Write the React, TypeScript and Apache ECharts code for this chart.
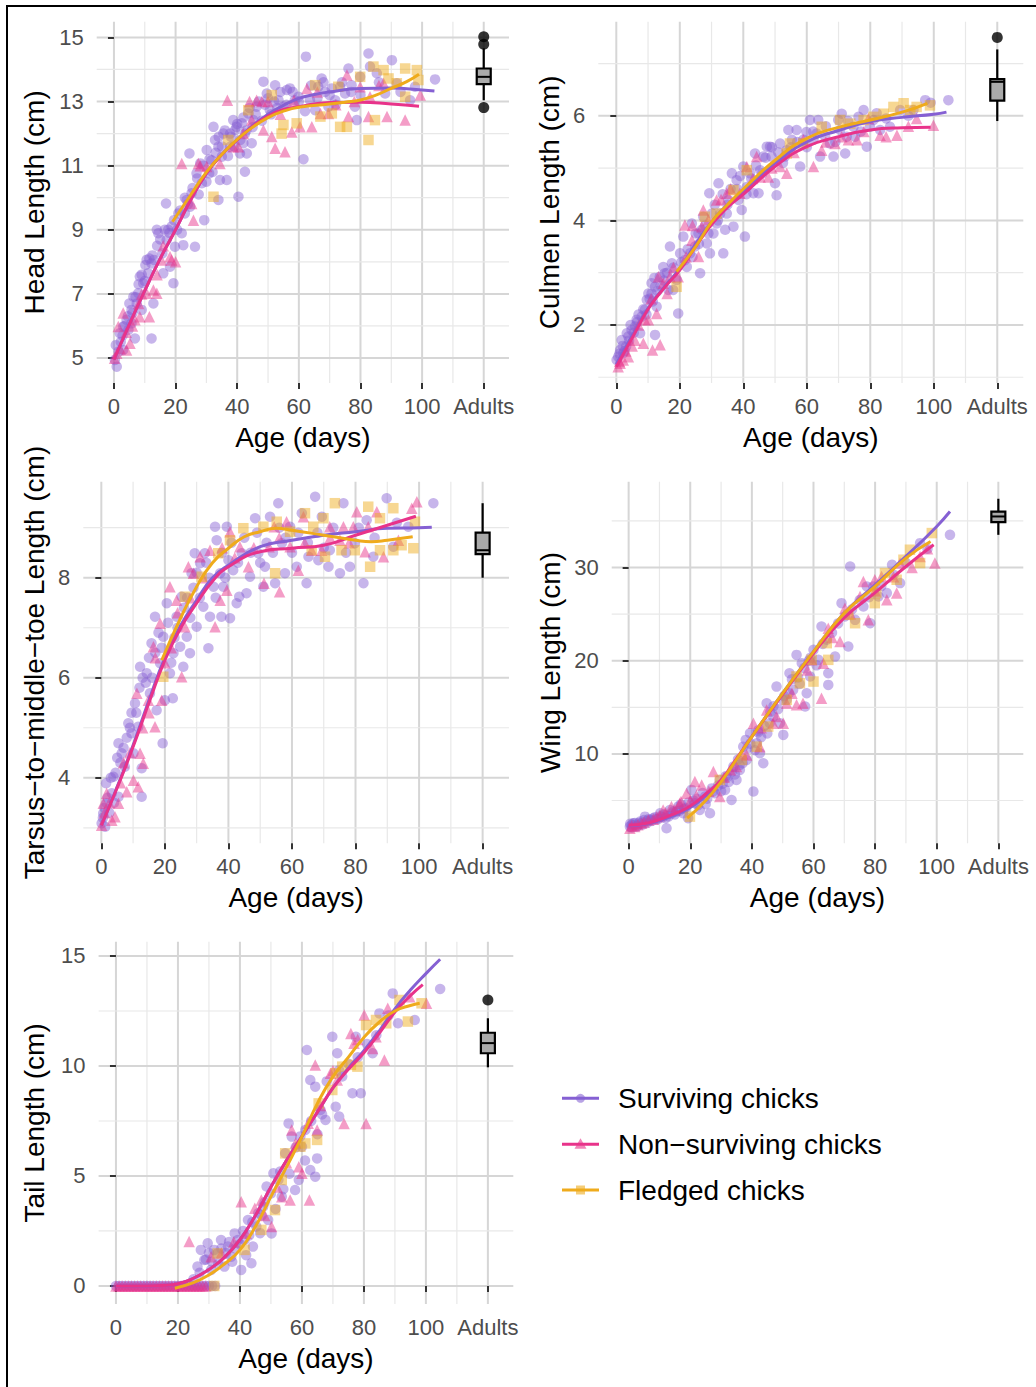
import React, { useEffect, useRef } from "react";
import * as echarts from "echarts";

// ---------- shared axis data ----------
const xTickValues = [0, 20, 40, 60, 80, 100, 120];
const xTickLabels = ["0", "20", "40", "60", "80", "100", "Adults"];
const xMinorValues = [10, 30, 50, 70, 90, 110];
const ADULT_X = 120;

const groupNames = ["Surviving chicks", "Non\u2212surviving chicks", "Fledged chicks"];

// ---------- Head length ----------
const headYMajor = [5, 7, 9, 11, 13, 15];
const headYMinor = [6, 8, 10, 12, 14];
const headSurviving = [
  [0.9, 4.73], [0.3, 4.94], [0.6, 5.4], [1.9, 5.77], [3, 5.98], [3, 5.25], [4.1, 6.19], [4.7, 5.88], [5.7, 6.5], [5.7, 6.08],
  [6.3, 6.91], [6.8, 5.61], [7.4, 6.7], [7.9, 7.02], [8.4, 7.54], [9, 6.5], [9.5, 7.33], [10.6, 8.06], [11.1, 7.64], [12.2, 5.61],
  [12.8, 6.7], [12.2, 7.95], [13, 8.06], [13.9, 9.0], [14.4, 8.89], [15.7, 8.26], [16, 7.64], [16.9, 9.82], [17.1, 8.68], [17.6, 9.0],
  [18.2, 7.85], [18.7, 9.1], [19.3, 7.33], [19.8, 8.47], [20.9, 9.51], [22, 8.89], [22.5, 8.52], [23, 9.51], [23.6, 9.93], [24.5, 11.38],
  [24.7, 9.72], [25.2, 10.14], [26.3, 8.47], [26.8, 10.76], [28, 11.07], [28.5, 10.45], [29.3, 9.3], [30.1, 11.49], [30.9, 10.76], [31.7, 11.17],
  [32.3, 12.21], [32.8, 11.8], [33.9, 9.93], [33.9, 11.59], [34.4, 10.55], [35, 11.28], [35.5, 12.0], [36.6, 10.55], [37.7, 11.59], [37.7, 12.0],
  [38.7, 12.42], [39.3, 12.11], [39.8, 12.21], [40.4, 10.03], [40.9, 11.38], [41.5, 12.32], [42, 11.7], [42.5, 10.81], [42.5, 12.0], [43.1, 11.38],
  [43.6, 12.63], [44.7, 11.7], [45.2, 12.42], [46.3, 12.84], [48.5, 13.62], [49.6, 13.25], [50.6, 12.73], [52.3, 13.51], [53.4, 13.04], [55, 12.84],
  [56.1, 13.36], [57.1, 13.41], [58.7, 13.04], [59.9, 13.15], [61.5, 11.2], [62.3, 14.4], [63.6, 13.04], [65.3, 12.73], [66.3, 13.46], [67.4, 13.72],
  [68.5, 13.3], [69.6, 12.84], [70.7, 13.41], [71.8, 13.04], [73.4, 13.46], [75, 13.25], [76.1, 14.03], [77.1, 13.51], [78.2, 12.84], [78.8, 12.42],
  [79.9, 13.77], [82.6, 14.5], [83.1, 14.09], [85.3, 13.88], [88, 13.25], [90.2, 14.29], [91.8, 13.57], [96.1, 13.04], [97.7, 13.46], [104.2, 13.69],
  [1.5, 5.2], [2.2, 5.5], [2.8, 5.7], [3.5, 6.0], [4.5, 6.3], [5, 6.7], [6, 6.4], [7, 6.9], [8, 7.3], [9, 7.6],
  [10, 7.4], [10.2, 7.9], [11.5, 8.1], [12.5, 8.2], [14, 8.5], [15, 8.7], [16.5, 9.0], [18, 8.9], [19.5, 9.3], [20.5, 9.0],
  [21.5, 9.6], [23, 10.0], [24, 9.8], [25.5, 10.3], [27, 10.6], [27.5, 10.1], [29, 11.0], [30, 10.5], [31, 11.2], [32, 10.8],
  [33, 11.4], [34, 11.9], [35, 11.6], [36, 12.1], [37, 11.3], [38, 11.9], [39, 11.6], [40, 12.3], [41, 11.8], [42, 12.5],
  [43, 12.1], [44, 12.8], [45, 12.2], [46, 12.6], [47, 13.0], [48, 12.4], [49, 12.9], [50, 13.1], [51, 12.6], [52, 13.0],
  [53, 12.8], [54, 13.3], [56, 12.9], [58, 13.3], [60, 13.0], [62, 12.7], [64, 13.5], [66, 13.1], [68, 13.6], [70, 13.2],
  [72, 12.9], [74, 13.6], [77, 13.3], [80, 13.2], [86, 13.6], [93, 13.3],
];
const headNonSurviving = [
  [0.2, 4.99], [0.9, 5.15], [1.4, 5.98], [3, 6.4], [4.1, 5.25], [5.2, 5.46], [6.8, 6.19], [8.4, 6.29], [10.6, 7.02], [11.5, 6.29],
  [12.8, 7.12], [13.9, 7.02], [15.4, 8.06], [18.2, 8.16], [18.7, 8.06], [22, 11.07], [25.2, 9.82], [25.8, 9.3], [27.4, 11.07], [30.1, 10.97],
  [34.4, 11.07], [36.8, 13.04], [38.7, 11.59], [40.4, 11.59], [44.7, 12.42], [46.3, 13.04], [48.5, 12.11], [51.2, 11.91], [52.3, 11.54], [55.5, 11.43],
  [57.7, 12.05], [58.4, 13.04], [60.4, 12.21], [62.6, 13.41], [64.2, 12.21], [67, 12.63], [69.6, 12.63], [75.6, 13.83], [76.1, 12.53], [79.9, 13.46],
  [82.6, 12.53], [83.1, 13.15], [87.5, 13.57], [88.6, 12.53], [94.5, 12.42], [99.4, 13.2],
  [2, 5.3], [4, 5.8], [6, 6.0], [8, 6.7], [9, 7.0], [14, 7.6], [16, 8.5], [20, 8.0], [28, 11.0], [42, 12.0],
  [44, 13.0], [48, 13.0], [50, 13.0], [54, 12.6], [66, 13.3], [72, 12.9], [78, 13.0], [86, 13.5],
];
const headFledged = [
  [32.3, 10.03], [37.1, 11.8], [43.6, 12.73], [51.2, 13.2], [54.4, 12.0], [55, 12.27], [59.3, 12.32], [65.3, 13.51], [67, 12.53], [70.7, 12.63],
  [72.8, 13.46], [73.4, 12.21], [75.6, 12.21], [79.9, 13.77], [82.6, 11.8], [84.2, 14.09], [84.7, 12.42], [87.5, 13.98], [89.1, 13.72], [91.8, 13.57],
  [94.5, 14.03], [94.5, 13.15], [98.3, 13.98], [98.8, 13.67],
];
const headFitSurviving = [
  [0, 4.95], [5, 6.05], [10, 7.1], [15, 8.1], [20, 9.0], [25, 9.95], [30, 10.76], [35, 11.35], [40, 11.8], [45, 12.25],
  [50, 12.6], [55, 12.88], [60, 13.1], [65, 13.22], [70, 13.3], [80, 13.41], [90, 13.42], [100, 13.36], [104, 13.33],
];
const headFitNonSurviving = [
  [0, 4.95], [5, 6.05], [10, 7.1], [15, 8.1], [20, 9.0], [25, 9.95], [30, 10.76], [35, 11.35], [40, 11.8], [45, 12.22],
  [50, 12.55], [55, 12.75], [60, 12.84], [70, 12.97], [80, 12.98], [90, 12.92], [99, 12.85],
];
const headFitFledged = [
  [19, 9.25], [25, 10.1], [30, 10.8], [35, 11.35], [40, 11.82], [45, 12.2], [50, 12.5], [55, 12.7], [60, 12.82], [70, 12.92],
  [75, 12.98], [80, 13.05], [85, 13.2], [90, 13.41], [95, 13.62], [99, 13.85],
];
const headAdultBox = [14.66, 14.03, 13.77, 13.54, 13.04]; // high, q3, median, q1, low
const headAdultOutliers = [15.02, 14.79, 12.81];

// ---------- Culmen length ----------
const culmenYMajor = [2, 4, 6];
const culmenYMinor = [1, 3, 5, 7];
const culmenSurviving = [
  [0.6, 1.39], [1.2, 1.52], [1.7, 1.71], [3.3, 1.84], [3.1, 1.59], [4.8, 1.9], [6.4, 2.1], [7.5, 1.84], [9, 2.29], [10.1, 2.6],
  [11.1, 2.8], [12.2, 1.81], [12.7, 2.35], [14.8, 3.11], [16.4, 2.67], [16.9, 3.5], [17.9, 2.67], [19.5, 2.22], [20.1, 3.37], [21.1, 3.69],
  [22.2, 3.11], [23.2, 3.37], [23.8, 3.94], [25.9, 3.75], [26.4, 2.99], [27.4, 4.07], [28.5, 3.56], [29.3, 4.52], [29.5, 3.37], [30.6, 3.75],
  [31.6, 3.94], [32.2, 4.71], [32.7, 4.13], [33.7, 3.37], [34.3, 3.82], [35.3, 4.39], [36.4, 4.9], [36.9, 3.88], [38.5, 4.39], [39.5, 4.2],
  [40.5, 3.69], [41.1, 4.64], [42.1, 4.9], [43.2, 4.52], [43.7, 5.28], [44.8, 4.52], [46.3, 5.22], [47.4, 5.41], [48.9, 5.22], [50, 4.71],
  [50.5, 4.48], [51.6, 5.47], [53.1, 5.22], [54.2, 5.73], [55.3, 5.54], [56.8, 5.73], [57.9, 5.03], [59.9, 5.69], [61, 5.92], [62.1, 5.54],
  [63.6, 5.92], [64.2, 5.22], [65.8, 5.6], [68.4, 5.22], [69.9, 5.92], [71, 6.04], [72.1, 5.28], [72.6, 5.6], [74.7, 5.79], [76.3, 5.98],
  [77.9, 6.11], [78.9, 5.41], [81, 5.92], [83.1, 5.73], [86.2, 5.79], [89.4, 6.11], [93.6, 6.11], [97.3, 6.3], [104.6, 6.3],
  [0.1, 1.33], [2.2, 1.46], [3.8, 1.78], [5.9, 1.97], [8, 2.16], [9.6, 2.48], [11.1, 2.6], [12.2, 2.73], [13.7, 2.92], [15.3, 2.99],
  [17.5, 3.18], [19, 2.86], [21.6, 3.24], [24.8, 3.5], [26.9, 3.82], [30.1, 4.13], [34.8, 4.13], [37.9, 4.77], [40, 5.03], [45.3, 4.96],
  [48.4, 5.41], [53.7, 5.34], [58.9, 5.54], [63.1, 5.66], [67.3, 5.47], [70.5, 5.73], [75.2, 5.6], [79.9, 5.79],
  [1, 1.45], [2, 1.6], [2.6, 1.5], [4, 1.7], [4.5, 2.0], [5.5, 1.85], [6.5, 2.05], [7, 2.2], [8.5, 2.3], [9.5, 2.2],
  [10.5, 2.5], [11.5, 2.45], [12, 2.9], [13, 2.65], [14, 2.75], [15, 2.85], [16, 3.0], [18, 3.1], [20.5, 3.2], [22.5, 3.45],
  [24, 3.3], [25, 3.75], [26, 3.55], [28, 3.9], [29, 3.75], [31, 4.3], [32, 4.0], [33.5, 4.5], [35, 4.3], [36, 4.6],
  [38, 4.6], [39, 4.85], [41, 4.5], [42.5, 4.8], [44, 5.05], [46, 4.9], [47, 5.2], [49, 5.4], [51, 5.3], [52.5, 5.1],
  [55, 5.4], [57, 5.5], [60, 5.4], [62, 5.7], [66, 5.8], [69, 5.5], [73, 5.9], [77, 5.7], [82, 6.05], [85, 5.95],
  [92, 6.0], [99, 6.25],
];
const culmenNonSurviving = [
  [0.6, 1.2], [1.2, 1.27], [2.2, 1.33], [3.8, 1.39], [5.9, 1.71], [8.5, 1.65], [10.1, 2.1], [11.4, 1.52], [12.7, 2.22], [13.3, 2.92],
  [13.8, 1.62], [14.8, 2.8], [16.9, 2.92], [19.5, 2.92], [21.6, 3.91], [23.8, 3.62], [25.9, 3.31], [26.9, 3.88], [27.4, 4.2], [29, 4.01],
  [31.6, 4.39], [34.8, 4.52], [38.9, 4.52], [41.1, 5.03], [44.2, 5.22], [45.3, 4.83], [47.9, 4.83], [51.6, 5.03], [53.7, 4.9], [58.9, 5.54],
  [62.1, 5.03], [64.7, 5.34], [68.9, 5.47], [73.1, 5.54], [75.8, 5.54], [79.4, 5.95], [83.1, 5.63], [88.4, 5.63], [94.6, 5.95], [99.9, 5.82],
  [1, 1.3], [3, 1.5], [5, 1.6], [7, 2.0], [9, 2.1], [11, 2.5], [16, 2.6], [18, 3.1], [22, 3.3], [24, 3.9],
  [33, 4.4], [36, 4.6], [43, 4.8], [49, 5.0], [56, 5.3], [66, 5.5], [71, 5.6], [78, 5.7], [85, 5.6], [92, 5.8],
];
const culmenFledged = [
  [19, 2.73], [27.9, 4.07], [31.6, 4.13], [36.9, 4.58], [41.1, 4.96], [53.7, 5.28], [54.7, 5.47], [58.9, 5.47], [64.7, 5.79], [70.5, 5.92],
  [73.7, 5.85], [77.9, 5.92], [81, 5.98], [84.2, 6.04], [87.3, 6.17], [90.5, 6.24], [92.6, 6.11], [94.6, 6.17], [98.8, 6.2],
];
const culmenFitSurviving = [
  [0, 1.25], [5, 1.8], [10, 2.32], [15, 2.72], [20, 3.08], [25, 3.55], [30, 3.97], [35, 4.3], [40, 4.56], [50, 5.09],
  [60, 5.5], [70, 5.72], [80, 5.89], [90, 5.97], [100, 6.03], [104, 6.07],
];
const culmenFitNonSurviving = [
  [0, 1.2], [5, 1.75], [10, 2.3], [15, 2.7], [20, 3.05], [25, 3.5], [30, 3.92], [35, 4.25], [40, 4.5], [50, 5.03],
  [60, 5.41], [70, 5.6], [80, 5.73], [90, 5.77], [99, 5.78],
];
const culmenFitFledged = [
  [19, 3.02], [25, 3.5], [30, 3.97], [35, 4.3], [40, 4.6], [50, 5.15], [60, 5.57], [70, 5.78], [80, 5.92], [90, 6.07], [98, 6.24],
];
const culmenAdultBox = [7.27, 6.7, 6.65, 6.29, 5.9];
const culmenAdultOutliers = [7.5];

// ---------- Tarsus-to-middle-toe length ----------
const tarsusYMajor = [4, 6, 8];
const tarsusYMinor = [3, 5, 7, 9];
const tarsusSurviving = [
  [0.1, 3.09], [0.6, 3.29], [1.2, 3.02], [1.7, 3.49], [1.5, 3.89], [3.3, 3.69], [3.8, 4.02], [5.4, 3.62], [5.4, 4.69], [6.4, 4.49],
  [7.4, 4.22], [8.5, 5.09], [9.5, 4.89], [10.1, 4.49], [10.6, 5.49], [11.6, 5.02], [12.2, 6.22], [12.7, 3.62], [12.7, 4.19], [14.3, 6.09],
  [15.3, 5.69], [15.8, 6.69], [16.9, 7.22], [17.4, 5.35], [18.5, 6.29], [19.3, 4.69], [19.5, 6.82], [20, 5.55], [20.6, 7.49], [21.6, 6.09],
  [22.5, 5.59], [22.7, 6.49], [23.7, 7.22], [24.8, 6.62], [25.3, 7.62], [25.8, 6.22], [26.9, 6.82], [27.9, 6.49], [28.4, 8.09], [29.4, 8.49],
  [30, 7.02], [31.1, 8.29], [32.1, 7.42], [32.6, 8.49], [33.7, 6.59], [34.2, 7.22], [35.3, 7.82], [35.8, 9.02], [36.3, 8.75], [37.4, 8.09],
  [37.8, 7.22], [38.4, 7.82], [39.5, 9.02], [40, 8.35], [40.5, 7.19], [41.5, 8.15], [42.6, 7.49], [43.4, 7.62], [44.2, 8.49], [45.7, 7.69],
  [46.8, 8.02], [48.4, 9.19], [49.4, 8.49], [51, 7.82], [51.5, 8.22], [53.1, 9.22], [54.7, 7.89], [55.7, 9.49], [56.8, 8.69], [57.8, 8.09],
  [59.4, 9.02], [61.5, 8.22], [63.1, 9.29], [64.6, 7.89], [65.2, 8.42], [67.3, 9.62], [68.3, 8.35], [69.4, 9.22], [71.5, 8.22], [71.9, 8.55],
  [75.1, 8.09], [76.2, 9.49], [78.2, 8.22], [79.8, 8.69], [82.5, 7.89], [83.5, 9.15], [85.6, 8.42], [89.8, 9.59], [91.9, 8.62], [96.6, 9.02],
  [104.5, 9.49],
  [0.5, 3.2], [1, 3.4], [2, 3.6], [2.5, 3.3], [3, 4.0], [4, 3.5], [4.5, 4.1], [5, 4.4], [6, 4.3], [7, 4.6],
  [8, 4.8], [9, 5.0], [9.5, 5.3], [11, 5.3], [12, 5.8], [13, 6.0], [14, 5.9], [15, 6.4], [16, 6.0], [17, 6.5],
  [18, 6.9], [19, 6.6], [21, 7.1], [22, 6.3], [23, 6.8], [24, 7.0], [26, 7.4], [27, 7.6], [28, 7.2], [29, 7.8],
  [30, 8.1], [31, 7.6], [33, 8.3], [34, 8.0], [36, 7.6], [38, 8.5], [39, 8.0], [41, 8.7], [43, 8.3], [45, 8.8],
  [47, 8.5], [49, 8.9], [50, 8.3], [52, 8.7], [54, 8.5], [56, 9.0], [58, 8.8], [60, 8.5], [62, 8.9], [65, 8.7],
  [68, 8.9], [70, 8.6], [73, 9.0], [77, 8.5], [81, 9.0], [86, 8.8], [93, 9.1],
];
const tarsusNonSurviving = [
  [0.1, 3.05], [0.6, 3.49], [1.7, 3.69], [3.3, 3.15], [4.3, 3.22], [5.4, 3.49], [8, 3.72], [10.1, 3.95], [11.2, 5.69], [11.6, 3.82],
  [12.2, 4.49], [13.2, 4.29], [14.8, 5.55], [16.4, 6.62], [16.9, 5.02], [18.5, 7.09], [19, 5.55], [21.6, 7.82], [23.7, 7.55], [25.3, 6.02],
  [26.3, 7.02], [27.4, 8.22], [29, 8.09], [31.1, 8.42], [34.2, 8.55], [35.8, 7.02], [37.4, 7.55], [39.5, 7.75], [40.5, 8.92], [43.6, 8.62],
  [46.3, 8.22], [51.2, 7.89], [52.8, 8.62], [54.4, 9.02], [56.1, 7.72], [58.3, 9.12], [59.4, 8.62], [62, 8.15], [63.6, 9.22], [66.2, 8.55],
  [69.4, 8.55], [71.9, 9.02], [75.1, 8.75], [76.2, 9.02], [79.3, 9.02], [80.4, 9.32], [83, 8.52], [84, 9.02], [86.7, 9.32], [88.8, 8.42],
  [93.5, 8.75], [97.7, 9.39], [99.3, 9.52],
  [1, 3.3], [2.5, 3.5], [6, 3.9], [7, 4.3], [9, 4.5], [13, 5.0], [15, 5.3], [17, 6.4], [20, 6.3], [22, 6.6],
  [24, 7.3], [28, 7.6], [32, 8.0], [38, 8.6], [42, 8.4], [48, 8.6], [56, 8.8], [64, 8.7], [72, 8.8], [78, 8.7],
];
const tarsusFledged = [
  [19.5, 6.02], [26.3, 7.62], [31.6, 8.02], [36.8, 8.49], [40.5, 8.75], [44.7, 8.99], [51, 9.02], [54.7, 8.09], [55.2, 9.12], [59.4, 8.92],
  [64.1, 9.29], [66.7, 9.02], [66.2, 8.55], [69.9, 9.19], [70.4, 8.42], [73.5, 9.49], [75.6, 8.55], [79.8, 8.55], [84, 9.42], [84.6, 8.22],
  [87.7, 9.19], [87.7, 8.55], [91.9, 8.55], [91.9, 9.39], [94.5, 8.65], [98.2, 8.59], [98.7, 9.12],
];
const tarsusFitSurviving = [
  [0, 3.05], [5, 3.82], [10, 4.65], [15, 5.55], [20, 6.4], [25, 7.05], [30, 7.55], [35, 8.0], [40, 8.25], [50, 8.62],
  [60, 8.75], [70, 8.85], [80, 8.92], [90, 8.99], [100, 9.0], [104, 9.01],
];
const tarsusFitNonSurviving = [
  [0, 3.05], [5, 3.8], [10, 4.62], [15, 5.5], [20, 6.35], [25, 7.0], [30, 7.49], [35, 7.93], [40, 8.22], [50, 8.52],
  [60, 8.59], [70, 8.65], [80, 8.85], [90, 9.05], [99, 9.23],
];
const tarsusFitFledged = [
  [19, 6.35], [25, 7.2], [30, 7.82], [35, 8.3], [40, 8.59], [45, 8.82], [50, 8.92], [55, 8.99], [60, 8.95], [70, 8.85],
  [80, 8.75], [85, 8.72], [90, 8.75], [98, 8.82],
];
const tarsusAdultBox = [9.49, 8.9, 8.55, 8.47, 8.0];
const tarsusAdultOutliers: number[] = [];

// ---------- Wing length ----------
const wingYMajor = [10, 20, 30];
const wingYMinor = [5, 15, 25, 35];
const wingSurviving = [
  [0.4, 2.2], [1.5, 2.56], [2.6, 2.2], [3.7, 2.74], [5.3, 3.27], [7, 2.92], [8, 3.1], [10.2, 3.63], [12.3, 2.02], [13.4, 3.99],
  [14.5, 3.81], [16.1, 4.35], [17.7, 3.63], [19.3, 3.1], [20.4, 6.14], [21.5, 4.7], [23.1, 3.99], [24.8, 5.42], [26.4, 3.63], [28, 5.78],
  [29.6, 7.21], [31.3, 6.14], [33.4, 5.06], [34, 8.64], [35, 7.21], [36.1, 8.28], [37.2, 10.78], [38.3, 9.35], [39.4, 12.22], [40.5, 5.96],
  [41.6, 11.14], [42.6, 10.07], [43.7, 9.0], [44.8, 15.44], [45.8, 13.29], [46.9, 14.0], [48, 17.22], [49.1, 13.29], [50.2, 12.04], [51.3, 15.8],
  [52.2, 18.66], [53.4, 16.87], [54.5, 20.62], [56.2, 19.73], [57.3, 15.08], [57.8, 16.51], [58.9, 18.3], [60, 21.16], [61.6, 20.09], [62.6, 23.67],
  [64.3, 22.24], [64.8, 17.4], [64.8, 18.66], [67, 20.44], [69.1, 26.17], [70.2, 24.74], [71.3, 21.52], [71.9, 30.11], [73.5, 24.38], [76.2, 25.81],
  [77.3, 27.96], [78.4, 24.02], [79.4, 27.96], [81.1, 26.89], [83.8, 27.25], [85.5, 30.29], [88.1, 28.32], [94.6, 32.61], [104.3, 33.5],
  [1, 2.4], [2, 2.6], [4, 2.5], [6, 2.8], [9, 3.0], [11, 3.2], [15, 3.5], [18, 4.1], [22, 5.2], [25, 4.6],
  [27, 6.3], [30, 6.0], [32, 7.5], [35.5, 9.4], [38, 11.5], [42, 12.3], [47, 15.1], [50.5, 16.2], [55, 18.2], [59, 20.3],
  [0.5, 2.5], [1, 2.1], [2, 2.4], [3, 2.3], [3.5, 2.6], [4.5, 2.4], [5, 2.9], [6, 2.6], [6.5, 3.0], [7.5, 2.8],
  [8.5, 3.2], [9.5, 3.0], [10.5, 3.3], [11.5, 3.5], [12, 3.1], [13, 3.3], [14, 3.6], [15.5, 3.8], [16.5, 3.9], [17, 4.6],
  [18.5, 4.2], [19.5, 4.8], [21, 5.0], [22.5, 4.5], [24, 5.8], [25.5, 5.2], [27.5, 6.0], [29, 6.6], [30.5, 6.8], [31.5, 7.6],
  [32.5, 7.0], [33.5, 8.1], [34.5, 7.8], [36, 8.8], [37, 9.0], [38.5, 10.6], [39.5, 11.1], [41, 10.4], [42, 12.5], [43, 11.8],
  [44, 13.0], [45, 12.2], [46, 14.5], [48.5, 14.8], [50, 15.8], [52, 16.5], [53, 18.0], [55.5, 17.5], [57, 19.2], [58.5, 20.0],
  [61, 19.5], [63, 21.8], [66, 23.0], [68, 24.0], [72.5, 25.5], [75, 26.5], [78, 26.8], [82, 28.0], [86, 29.2], [90, 30.5],
  [97, 32.0],
];
const wingNonSurviving = [
  [0.4, 2.02], [2, 2.2], [4.2, 2.56], [6.4, 2.92], [9.1, 3.27], [11.2, 3.99], [13.9, 4.35], [16.6, 4.7], [18.8, 5.78], [21.5, 7.03],
  [23.7, 6.67], [27.5, 8.1], [29.6, 5.42], [35, 8.64], [38.3, 9.89], [40.5, 13.29], [42.6, 10.78], [44.8, 14.72], [46.9, 13.29], [50.2, 13.29],
  [51.3, 15.44], [54.5, 15.26], [56.6, 15.44], [59.4, 20.09], [62.6, 15.98], [63.2, 19.73], [64.8, 23.49], [68.6, 22.06], [70.2, 25.63], [75.1, 26.89],
  [76.2, 28.5], [77.8, 24.38], [79.9, 28.68], [82.1, 29.04], [83.8, 26.53], [87, 27.25], [88.1, 30.47], [94.6, 31.18], [99.4, 30.47],
  [1, 2.3], [3, 2.4], [5, 2.7], [8, 3.0], [10, 3.4], [12, 3.7], [15, 4.0], [17, 4.9], [20, 5.0], [22, 5.5],
  [26, 6.0], [31, 7.5], [33, 8.3], [37, 10.0], [43, 12.8], [48, 14.0], [53, 16.5], [58, 19.0], [66, 22.5], [72, 25.0],
  [80, 27.5], [86, 29.0], [92, 30.0], [97, 32.0],
];
const wingFledged = [
  [19.9, 3.27], [29.6, 7.21], [36.7, 9.35], [41.6, 10.78], [45.3, 12.93], [51.3, 15.8], [54.5, 18.3], [55.6, 17.58], [59.4, 20.09], [60, 17.76],
  [64.3, 21.88], [64.8, 20.09], [71.3, 24.92], [73.5, 24.02], [79.9, 26.17], [80.4, 27.25], [83.2, 29.39], [87, 28.68], [89.2, 30.83], [91.3, 31.9],
  [94.6, 30.47], [98.4, 33.69],
];
const wingFitSurviving = [
  [0, 2.3], [5, 2.45], [10, 2.85], [15, 3.45], [20, 4.25], [25, 5.5], [30, 7.05], [35, 9.4], [40, 11.86], [50, 16.51],
  [60, 20.98], [70, 25.1], [80, 28.14], [90, 31.18], [100, 34.4], [104.3, 36.0],
];
const wingFitNonSurviving = [
  [0, 2.35], [5, 2.5], [10, 2.95], [15, 3.6], [20, 4.4], [25, 5.7], [30, 7.2], [35, 9.5], [40, 11.86], [50, 16.4],
  [60, 20.8], [70, 24.6], [80, 27.3], [90, 30.1], [99, 32.43],
];
const wingFitFledged = [
  [19, 3.1], [25, 5.0], [30, 7.0], [35, 9.4], [40, 11.86], [50, 16.51], [60, 20.98], [70, 25.1], [80, 27.96], [90, 31.0], [98, 32.79],
];
const wingAdultBox = [37.37, 36.0, 35.47, 34.87, 33.5];
const wingAdultOutliers: number[] = [];

// ---------- Tail length ----------
const tailYMajor = [0, 5, 10, 15];
const tailYMinor = [2.5, 7.5, 12.5];
const tailSurviving = [
  [0, 0], [1, 0], [2, 0], [3, 0], [4, 0], [5, 0], [6, 0], [7, 0], [8, 0], [9, 0], [10, 0], [12, 0], [14, 0], [16, 0], [18, 0],
  [20, 0], [22, 0], [24, 0], [26, 0], [28, 0], [30, 0],
  [11, 0], [13, 0], [15, 0], [17, 0], [19, 0], [21, 0], [23, 0], [25, 0], [27, 0], [29, 0], [31, 0], [32, 0],
  [26.3, 0.88], [27.4, 1.64], [28.5, 1.18], [29.6, 1.94], [30.7, 0.73], [31.7, 1.64], [32.8, 1.48], [33.9, 2.09], [35, 0.88], [36.1, 1.79],
  [37.2, 1.33], [38.3, 2.39], [39.3, 2.09], [40.4, 0.73], [41.5, 2.09], [42.6, 3.0], [43.7, 1.03], [44.2, 1.79], [45.3, 2.7], [45.9, 3.3],
  [47.5, 3.61], [48.6, 4.52], [49.1, 3.0], [50.2, 2.39], [50.8, 5.12], [52.4, 4.82], [53.5, 4.06], [54.6, 6.03], [55.7, 7.39], [56.7, 6.79],
  [57.8, 4.36], [59, 4.82], [60, 6.33], [61.1, 7.09], [61.6, 10.73], [62.7, 9.36], [62.7, 5.27], [64.3, 9.06], [64.3, 4.97], [64.9, 5.8],
  [66, 8.0], [67.6, 7.55], [69.8, 11.33], [70.9, 8.15], [71.4, 10.58], [72, 7.7], [73, 9.52], [76.3, 8.76], [77.4, 11.33], [79, 8.76],
  [82.8, 10.58], [85, 12.39], [89.3, 13.3], [91, 11.94], [96.4, 12.09], [104.6, 13.5],
  [25, 0.3], [27, 0.6], [29, 1.2], [30, 1.5], [31, 1.1], [33, 1.0], [34, 1.7], [35.5, 1.5], [36.5, 2.0], [37.5, 1.1],
  [38.5, 1.7], [40, 1.9], [41, 2.5], [42, 1.4], [43, 2.3], [44, 2.9], [46.5, 2.4], [47, 3.2], [48, 3.8], [50, 4.2],
  [51.5, 3.5], [53, 5.2], [54, 4.4], [56, 5.1], [58, 6.3], [59.5, 6.8], [61, 5.7], [63, 7.5], [65, 6.9], [66.5, 7.8],
  [68, 9.3], [72, 9.8], [75, 10.1], [78, 10.4], [81, 11.0], [84, 11.4], [88, 12.3],
];
const tailNonSurviving = [
  [0, 0], [1, 0], [2, 0], [3, 0], [4, 0], [5, 0], [6, 0], [7, 0], [8, 0], [9, 0], [10, 0], [11, 0], [13, 0], [15, 0], [17, 0],
  [19, 0], [21, 0], [25, 0], [29, 0],
  [12, 0], [14, 0], [16, 0], [18, 0], [20, 0], [22, 0], [23, 0], [24, 0], [26, 0], [27, 0], [28, 0],
  [23.6, 2.02], [30.7, 1.33], [40.4, 3.83], [44.8, 3.53], [46.9, 3.91], [50.2, 2.7], [53.5, 4.06], [56.2, 3.91], [56.7, 7.09], [59, 5.42],
  [60, 5.12], [62.4, 3.91], [64.3, 10.05], [64.9, 7.09], [69.2, 9.67], [71.4, 9.36], [73.6, 7.39], [75.8, 11.48], [76.8, 11.03], [80.1, 12.32],
  [80.7, 7.39], [82.8, 10.8], [83.9, 11.33], [86.6, 10.27], [87.7, 12.62], [94.8, 13.15], [100.2, 12.85],
  [34, 1.5], [38, 2.0], [42, 2.4], [48, 3.2], [52, 4.5], [55, 5.6], [58, 6.5], [62, 7.4], [66, 8.2], [70, 9.8], [78, 11.2],
];
const tailFledged = [
  [31.7, 0], [32.8, 1.48], [41.5, 1.64], [46.9, 2.55], [51.3, 3.45], [53.5, 4.82], [54.6, 6.03], [59.5, 6.33], [61.1, 6.48], [64.9, 6.64],
  [65.4, 8.3], [69.8, 8.91], [70.9, 9.67], [73, 9.97], [75.8, 10.05], [77.9, 9.97], [80.7, 11.86], [83.9, 12.09], [87.2, 11.94], [91.5, 13.0],
  [94.2, 12.02], [98.6, 12.85],
];
const tailFitSurviving = [
  [0, 0], [10, 0], [15, 0.02], [20, 0.1], [25, 0.35], [30, 0.75], [35, 1.3], [40, 2.1], [45, 3.2], [50, 4.5],
  [55, 5.7], [60, 6.8], [65, 7.9], [70, 9.0], [75, 9.9], [80, 10.7], [85, 11.6], [90, 12.6], [95, 13.45], [100, 14.2], [104.6, 14.85],
];
const tailFitNonSurviving = [
  [0, 0], [10, 0], [15, 0.02], [20, 0.1], [25, 0.35], [30, 0.75], [35, 1.3], [40, 2.1], [45, 3.2], [50, 4.5],
  [55, 5.7], [60, 6.8], [65, 7.9], [70, 9.0], [75, 9.85], [80, 10.6], [85, 11.5], [90, 12.45], [95, 13.2], [99, 13.7],
];
const tailFitFledged = [
  [19, -0.1], [25, 0.15], [30, 0.5], [35, 1.0], [40, 1.64], [45, 2.7], [50, 4.06], [55, 5.4], [60, 6.79], [65, 8.3],
  [70, 9.52], [75, 10.4], [80, 11.3], [85, 12.0], [90, 12.5], [95, 12.75], [98, 12.85],
];
const tailAdultBox = [12.17, 11.51, 11.04, 10.58, 9.94];
const tailAdultOutliers = [13.0];

// ---------- styling ----------
const PURPLE = "#8560d3";
const PINK = "#e8338a";
const YELLOW = "#efab1c";
const PURPLE_PT = "rgba(133,96,211,0.58)";
const PINK_PT = "rgba(232,51,138,0.6)";
const YELLOW_PT = "rgba(239,171,28,0.6)";
const FONT = "'Liberation Sans', Arial, Helvetica, sans-serif";

type Panel = {
  left: number; top: number; width: number; height: number;
  xMin: number; xMax: number; yMin: number; yMax: number;
  yMajor: number[]; yMinor: number[];
  surv: number[][]; non: number[][]; fled: number[][];
  fitSurv: number[][]; fitNon: number[][]; fitFled: number[][];
  box: number[]; out: number[];
  yTitle: string; yTitleX: number; xTitleY: number;
};

const panels: Panel[] = [
  {
    left: 96.7, top: 21.7, width: 412.3, height: 361.3, xMin: -5.6, xMax: 128.2, yMin: 4.22, yMax: 15.49,
    yMajor: headYMajor, yMinor: headYMinor, surv: headSurviving, non: headNonSurviving, fled: headFledged,
    fitSurv: headFitSurviving, fitNon: headFitNonSurviving, fitFled: headFitFledged, box: headAdultBox, out: headAdultOutliers,
    yTitle: "Head Length (cm)", yTitleX: 34, xTitleY: 437,
  },
  {
    left: 598.3, top: 21.7, width: 425, height: 361.3, xMin: -5.67, xMax: 128.2, yMin: 0.89, yMax: 7.8,
    yMajor: culmenYMajor, yMinor: culmenYMinor, surv: culmenSurviving, non: culmenNonSurviving, fled: culmenFledged,
    fitSurv: culmenFitSurviving, fitNon: culmenFitNonSurviving, fitFled: culmenFitFledged, box: culmenAdultBox, out: culmenAdultOutliers,
    yTitle: "Culmen Length (cm)", yTitleX: 549.5, xTitleY: 437,
  },
  {
    left: 83.3, top: 481.7, width: 425.7, height: 361.6, xMin: -5.67, xMax: 128.3, yMin: 2.69, yMax: 9.92,
    yMajor: tarsusYMajor, yMinor: tarsusYMinor, surv: tarsusSurviving, non: tarsusNonSurviving, fled: tarsusFledged,
    fitSurv: tarsusFitSurviving, fitNon: tarsusFitNonSurviving, fitFled: tarsusFitFledged, box: tarsusAdultBox, out: tarsusAdultOutliers,
    yTitle: "Tarsus\u2212to\u2212middle\u2212toe Length (cm)", yTitleX: 34, xTitleY: 897,
  },
  {
    left: 611.7, top: 481.7, width: 411.6, height: 361.6, xMin: -5.5, xMax: 128.1, yMin: 0.41, yMax: 39.2,
    yMajor: wingYMajor, yMinor: wingYMinor, surv: wingSurviving, non: wingNonSurviving, fled: wingFledged,
    fitSurv: wingFitSurviving, fitNon: wingFitNonSurviving, fitFled: wingFitFledged, box: wingAdultBox, out: wingAdultOutliers,
    yTitle: "Wing Length (cm)", yTitleX: 550, xTitleY: 897,
  },
  {
    left: 98.6, top: 941.7, width: 414.7, height: 362.3, xMin: -5.6, xMax: 128.2, yMin: -0.82, yMax: 15.65,
    yMajor: tailYMajor, yMinor: tailYMinor, surv: tailSurviving, non: tailNonSurviving, fled: tailFledged,
    fitSurv: tailFitSurviving, fitNon: tailFitNonSurviving, fitFled: tailFitFledged, box: tailAdultBox, out: tailAdultOutliers,
    yTitle: "Tail Length (cm)", yTitleX: 34, xTitleY: 1358,
  },
];

function gridLineSeries(i: number, p: Panel) {
  const data: number[][] = [];
  xTickValues.forEach((v) => data.push([v, 0, 1]));
  xMinorValues.forEach((v) => data.push([v, 0, 0]));
  p.yMajor.forEach((v) => data.push([v, 1, 1]));
  p.yMinor.forEach((v) => data.push([v, 1, 0]));
  return {
    type: "custom",
    xAxisIndex: i,
    yAxisIndex: i,
    silent: true,
    clip: false,
    z: 0,
    data,
    renderItem: (params: any, api: any) => {
      const cs = params.coordSys;
      const v = api.value(0);
      const dir = api.value(1);
      const major = api.value(2) === 1;
      const style = { stroke: major ? "#d6d6d6" : "#e8e8e8", lineWidth: major ? 2 : 1.2 };
      if (dir === 0) {
        const x = api.coord([v, (p.yMin + p.yMax) / 2])[0];
        return { type: "line", shape: { x1: x, y1: cs.y, x2: x, y2: cs.y + cs.height }, style };
      }
      const y = api.coord([0, v])[1];
      return { type: "line", shape: { x1: cs.x, y1: y, x2: cs.x + cs.width, y2: y }, style };
    },
  };
}

function boxSeries(i: number, p: Panel) {
  return {
    type: "custom",
    xAxisIndex: i,
    yAxisIndex: i,
    silent: true,
    clip: false,
    z: 5,
    data: [[ADULT_X, ...p.box]],
    renderItem: (params: any, api: any) => {
      const x = api.coord([api.value(0), api.value(1)])[0];
      const yHigh = api.coord([api.value(0), api.value(1)])[1];
      const yQ3 = api.coord([api.value(0), api.value(2)])[1];
      const yMed = api.coord([api.value(0), api.value(3)])[1];
      const yQ1 = api.coord([api.value(0), api.value(4)])[1];
      const yLow = api.coord([api.value(0), api.value(5)])[1];
      const hw = 7;
      const st = { stroke: "#000", lineWidth: 2.2 };
      return {
        type: "group",
        children: [
          { type: "line", shape: { x1: x, y1: yHigh, x2: x, y2: yQ3 }, style: st },
          { type: "line", shape: { x1: x, y1: yQ1, x2: x, y2: yLow }, style: st },
          { type: "rect", shape: { x: x - hw, y: yQ3, width: 2 * hw, height: yQ1 - yQ3 }, style: { fill: "#aaaaaa", stroke: "#000", lineWidth: 2.2 } },
          { type: "line", shape: { x1: x - hw, y1: yMed, x2: x + hw, y2: yMed }, style: { stroke: "#000", lineWidth: 2 } },
        ],
      };
    },
  };
}

function buildOption() {
  const grid: any[] = [];
  const xAxis: any[] = [];
  const yAxis: any[] = [];
  const series: any[] = [];
  const graphic: any[] = [];

  panels.forEach((p, i) => {
    grid.push({ left: p.left, top: p.top, width: p.width, height: p.height, containLabel: false });
    xAxis.push({
      type: "value",
      gridIndex: i,
      min: p.xMin,
      max: p.xMax,
      axisLine: { show: false },
      splitLine: { show: false },
      axisTick: { show: true, length: 6, customValues: xTickValues, lineStyle: { color: "#333", width: 2 } },
      axisLabel: {
        customValues: xTickValues,
        formatter: (v: number) => xTickLabels[xTickValues.indexOf(v)] ?? String(v),
        fontSize: 22,
        color: "#4d4d4d",
        fontFamily: FONT,
        margin: 12,
      },
    });
    yAxis.push({
      type: "value",
      gridIndex: i,
      min: p.yMin,
      max: p.yMax,
      axisLine: { show: false },
      splitLine: { show: false },
      axisTick: { show: true, length: 6, customValues: p.yMajor, lineStyle: { color: "#333", width: 2 } },
      axisLabel: {
        customValues: p.yMajor,
        formatter: (v: number) => String(v),
        fontSize: 22,
        color: "#4d4d4d",
        fontFamily: FONT,
        margin: 13,
      },
    });

    series.push(gridLineSeries(i, p));
    const sc = (data: number[][], symbol: string, color: string, size: number, name: string) => ({
      type: "scatter", name, xAxisIndex: i, yAxisIndex: i, data, symbol, symbolSize: size, z: 2,
      itemStyle: { color }, silent: true,
    });
    series.push(sc(p.surv, "circle", PURPLE_PT, 10.5, groupNames[0]));
    series.push(sc(p.non, "triangle", PINK_PT, 11.5, groupNames[1]));
    series.push(sc(p.fled, "rect", YELLOW_PT, 10.5, groupNames[2]));
    const ln = (data: number[][], color: string, name: string) => ({
      type: "line", name, xAxisIndex: i, yAxisIndex: i, data, smooth: 0.5, showSymbol: false, symbol: "none", z: 3,
      lineStyle: { color, width: 3 }, silent: true,
    });
    series.push(ln(p.fitSurv, PURPLE, groupNames[0]));
    series.push(ln(p.fitNon, PINK, groupNames[1]));
    series.push(ln(p.fitFled, YELLOW, groupNames[2]));
    series.push(boxSeries(i, p));
    if (p.out.length) {
      series.push({
        type: "scatter", xAxisIndex: i, yAxisIndex: i, z: 6, silent: true,
        data: p.out.map((v) => [ADULT_X, v]), symbol: "circle", symbolSize: 11, itemStyle: { color: "#000" },
      });
    }

    graphic.push({
      type: "text", x: p.left + p.width / 2, y: p.xTitleY, silent: true,
      style: { text: "Age (days)", fontSize: 28, fontFamily: FONT, fill: "#000", align: "center", verticalAlign: "middle", textAlign: "center", textVerticalAlign: "middle" },
    });
    graphic.push({
      type: "text", x: p.yTitleX, y: p.top + p.height / 2, rotation: Math.PI / 2, silent: true,
      style: { text: p.yTitle, fontSize: 28, fontFamily: FONT, fill: "#000", align: "center", verticalAlign: "middle", textAlign: "center", textVerticalAlign: "middle" },
    });
  });

  // legend
  const legendY = [1098.3, 1144.3, 1190];
  const legColors = [PURPLE, PINK, YELLOW];
  const legPts = [PURPLE_PT, PINK_PT, YELLOW_PT];
  legendY.forEach((y, k) => {
    graphic.push({ type: "line", silent: true, shape: { x1: 562, y1: y, x2: 599, y2: y }, style: { stroke: legColors[k], lineWidth: 3 } });
    if (k === 0) graphic.push({ type: "circle", silent: true, shape: { cx: 580.5, cy: y, r: 4.5 }, style: { fill: legPts[k] } });
    if (k === 1) graphic.push({ type: "polygon", silent: true, shape: { points: [[580.5, y - 6], [586.5, y + 4.5], [574.5, y + 4.5]] }, style: { fill: legPts[k] } });
    if (k === 2) graphic.push({ type: "rect", silent: true, shape: { x: 576, y: y - 4.5, width: 9, height: 9 }, style: { fill: legPts[k] } });
    graphic.push({
      type: "text", x: 618, y, silent: true,
      style: { text: groupNames[k], fontSize: 28, fontFamily: FONT, fill: "#000", align: "left", verticalAlign: "middle", textAlign: "left", textVerticalAlign: "middle" },
    });
  });

  // outer frame
  graphic.push({ type: "rect", silent: true, shape: { x: 7, y: 6, width: 1040, height: 1400 }, style: { fill: "none", stroke: "#000", lineWidth: 2 } });

  return { animation: false, backgroundColor: "#fff", grid, xAxis, yAxis, series, graphic };
}

export default function App() {
  const ref = useRef<HTMLDivElement>(null);
  useEffect(() => {
    if (!ref.current) return;
    const chart = echarts.init(ref.current, undefined, { renderer: "svg" });
    chart.setOption(buildOption() as any);
    return () => chart.dispose();
  }, []);
  return <div ref={ref} style={{ position: "absolute", left: 0, top: 0, width: 1036, height: 1387, background: "#fff" }} />;
}
